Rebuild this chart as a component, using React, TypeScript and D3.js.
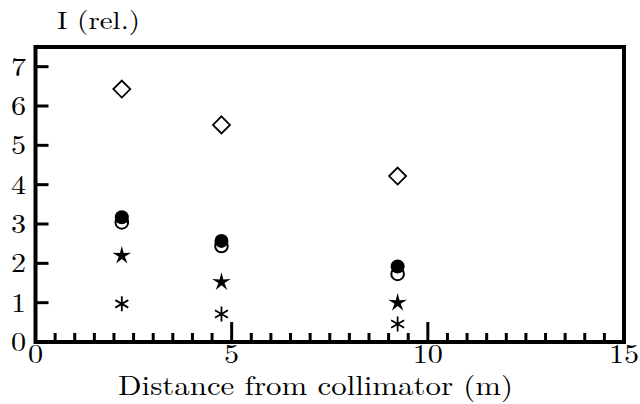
import React from 'react';
import * as d3 from 'd3';

// distances (m) of the three measurement positions
const distances = [2.2, 4.74, 9.23];

// relative intensity for each marker series
const diamondVals = [6.43, 5.52, 4.22];
const filledVals = [3.17, 2.57, 1.92];
const openVals = [3.04, 2.44, 1.73];
const starVals = [2.22, 1.55, 1.02];
const asteriskVals = [0.97, 0.71, 0.46];

const yTicks = [0, 1, 2, 3, 4, 5, 6, 7];
const xLabels = [0, 5, 10, 15];
const xMajor = [5, 10];

const FONT = '"Latin Modern Roman", "Liberation Serif", serif';

const left = 35.5, right = 624, top = 47, bottom = 342;
const x = d3.scaleLinear().domain([0, 15]).range([left, right]);
const y = d3.scaleLinear().domain([0, 7.5]).range([bottom, top]);

const starPath = (r: number, ri: number) => {
    const pts: [number, number][] = d3.range(10).map((i) => {
        const a = -Math.PI / 2 + (i * Math.PI) / 5;
        const rr = i % 2 === 0 ? r : ri;
        return [rr * Math.cos(a), rr * Math.sin(a)];
    });
    return d3.line()(pts) + 'Z';
};

const asteriskPath = (r: number) =>
    [90, 30, 150].map((deg) => {
        const a = (deg * Math.PI) / 180;
        const dx = r * Math.cos(a), dy = r * Math.sin(a);
        return `M${-dx},${-dy}L${dx},${dy}`;
    }).join('');

const pts = (vals: number[]) => distances.map((d, i) => ({ px: x(d), py: y(vals[i]) }));

// the original figure is a little stretched horizontally
const SX = 1.12;

export default function App() {
    // minor x ticks every 0.5, majors at 5 and 10
    const minor = d3.range(0.5, 15, 0.5).filter((v) => !xMajor.includes(v));
    const star = starPath(9.8, 3.2);
    const ast = asteriskPath(7.5);

    return (
        <svg width={640} height={404} style={{ position: 'absolute', left: 0, top: 0, background: '#fff' }}>
            <g stroke="#000" strokeWidth={3}>
                {minor.map((d) => (
                    <line key={'m' + d} x1={x(d)} x2={x(d)} y1={bottom} y2={bottom - 9} />
                ))}
                {xMajor.map((d) => (
                    <line key={'M' + d} x1={x(d)} x2={x(d)} y1={bottom} y2={bottom - 20} />
                ))}
                {yTicks.filter((t) => t > 0).map((d) => (
                    <line key={'y' + d} x1={left} x2={left + 13} y1={y(d)} y2={y(d)} />
                ))}
            </g>
            <rect x={left} y={top} width={right - left} height={bottom - top}
                fill="none" stroke="#000" strokeWidth={4} />

            <g style={{ fontFamily: FONT, fontSize: 27 }}>
                {xLabels.map((d) => (
                    <text key={'xl' + d} transform={`translate(${x(d)},${bottom + 21}) scale(${SX},1)`}
                        textAnchor="middle">{d}</text>
                ))}
                {yTicks.map((d) => (
                    <text key={'yl' + d} transform={`translate(26,${y(d) + 9}) scale(${SX},1)`}
                        textAnchor="end">{d}</text>
                ))}
            </g>

            <text x={118} y={395} style={{ fontFamily: FONT, fontSize: 27 }}
                textLength={395} lengthAdjust="spacingAndGlyphs">
                Distance from collimator (m)
            </text>
            <text x={57} y={29} style={{ fontFamily: FONT, fontSize: 25 }}
                textLength={83} lengthAdjust="spacingAndGlyphs">
                I (rel.)
            </text>

            {pts(diamondVals).map((d, i) => (
                <path key={'d' + i} d="M0,-8.5L8.5,0L0,8.5L-8.5,0Z"
                    transform={`translate(${d.px},${d.py})`}
                    fill="none" stroke="#000" strokeWidth={1.8} />
            ))}
            {pts(openVals).map((d, i) => (
                <circle key={'o' + i} cx={d.px} cy={d.py} r={6.3}
                    fill="#fff" stroke="#000" strokeWidth={2} />
            ))}
            {pts(filledVals).map((d, i) => (
                <circle key={'f' + i} cx={d.px} cy={d.py} r={7} fill="#000" />
            ))}
            {pts(starVals).map((d, i) => (
                <path key={'s' + i} d={star} transform={`translate(${d.px},${d.py + 1})`} fill="#000" />
            ))}
            {pts(asteriskVals).map((d, i) => (
                <path key={'a' + i} d={ast} transform={`translate(${d.px},${d.py})`}
                    stroke="#000" strokeWidth={1.8} />
            ))}
        </svg>
    );
}
